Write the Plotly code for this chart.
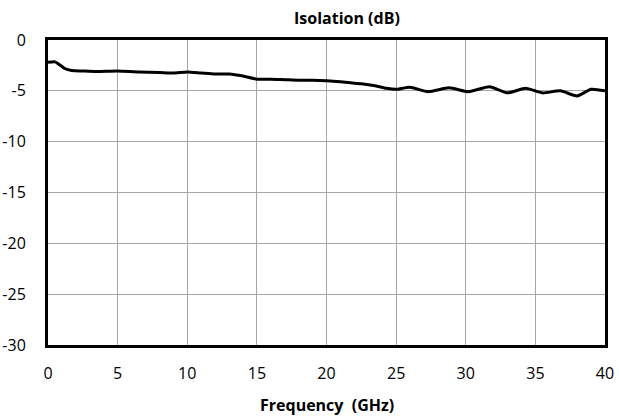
import plotly.graph_objects as go

freq_ghz = [0.0, 0.5, 0.8, 1.2, 1.7, 2.5, 3.5, 5.0, 6.5, 8.0, 9.0, 10.0, 11.0,
            12.0, 13.0, 14.0, 15.0, 16.0, 17.0, 18.0, 19.0, 20.0, 21.0, 22.0, 22.5,
            23.5, 24.3, 25.0, 26.0, 27.3, 28.8, 30.2, 31.7, 33.0, 34.3, 35.5, 36.8,
            38.0, 39.0, 40.0]
isolation_db = [-2.2, -2.15, -2.4, -2.8, -3.0, -3.05, -3.1, -3.05, -3.15,
                -3.2, -3.25, -3.15, -3.25, -3.35, -3.35, -3.55, -3.85, -3.85, -3.9,
                -3.95, -3.95, -4.0, -4.1, -4.25, -4.3, -4.5, -4.75, -4.85, -4.65,
                -5.08, -4.7, -5.08, -4.6, -5.2, -4.75, -5.2, -5.0, -5.5, -4.85, -5.0]

x_ticks = [0, 5, 10, 15, 20, 25, 30, 35, 40]
y_ticks = [0, -5, -10, -15, -20, -25, -30]

fig = go.Figure()
fig.add_trace(go.Scatter(x=freq_ghz, y=isolation_db, mode="lines",
                         line=dict(color="black", width=3, shape="spline", smoothing=0.6),
                         showlegend=False, hoverinfo="skip"))

font_family = "Open Sans, Liberation Sans, sans-serif"
fig.update_layout(
    width=619, height=418,
    margin=dict(l=48, r=14, t=40, b=73),
    paper_bgcolor="white", plot_bgcolor="white",
    font=dict(family=font_family, color="black", size=16),
    annotations=[
        dict(text="<b>Isolation (dB)</b>", x=0.537, y=1.0, xref="paper", yref="paper",
             xanchor="center", yanchor="bottom", yshift=9, showarrow=False,
             font=dict(size=16, family=font_family, color="black")),
        dict(text="<b>Frequency  (GHz)</b>", x=0.5, y=0, xref="paper", yref="paper",
             xanchor="center", yanchor="top", yshift=-47, showarrow=False,
             font=dict(size=16, family=font_family, color="black")),
    ],
)
fig.update_xaxes(range=[0, 40], tickvals=x_ticks, ticktext=[str(v) for v in x_ticks],
                 showgrid=True, gridcolor="#A6A6A6", gridwidth=1,
                 showline=True, linecolor="black", linewidth=3, mirror=True,
                 ticks="", ticklabelstandoff=12, zeroline=False, automargin=False,
                 tickfont=dict(size=16))
fig.update_yaxes(range=[-30, 0], tickvals=y_ticks, ticktext=[str(v) for v in y_ticks],
                 showgrid=True, gridcolor="#A6A6A6", gridwidth=1,
                 showline=True, linecolor="black", linewidth=3, mirror=True,
                 ticks="", ticklabelstandoff=16, zeroline=False, automargin=False,
                 tickfont=dict(size=16))

fig.write_html("out.html", config={"displayModeBar": False, "staticPlot": True},
               post_script="document.body.style.margin='0';")
